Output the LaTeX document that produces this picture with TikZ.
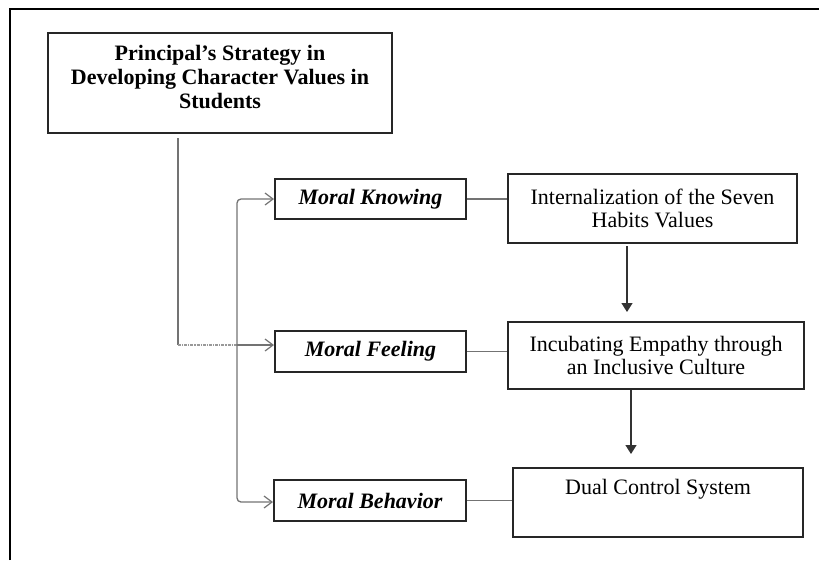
\documentclass[tikz,border=0pt]{standalone}
\usepackage{fontspec}
\setmainfont{Liberation Serif}
\usetikzlibrary{arrows.meta,calc}
\begin{document}
\begin{tikzpicture}[x=1pt,y=-1pt,
  box/.style={draw=black!85,line width=2pt,rectangle,inner sep=0pt,align=center},
  conn/.style={draw=black!55,line width=1.3pt},
  openarrow/.style={-{Straight Barb[length=8pt,width=12pt,line width=1.2pt]}},
  downarrow/.style={draw=black!80,line width=1.3pt,-{Triangle[length=9pt,width=11pt]}},
  txt/.style={font=\fontsize{22}{23.5}\selectfont},
  moral/.style={font=\fontsize{22}{24}\selectfont\bfseries\itshape}]
\useasboundingbox (0,0) rectangle (819,560);
\draw[line width=2pt,black] (10,560) -- (10,9) -- (819,9);

\node[box,minimum width=344pt,minimum height=100pt,font=\fontsize{22}{24}\selectfont\bfseries] (T) at (220,83)
  {Principal's Strategy in\\Developing Character Values in\\Students\\[-12pt]\mbox{}};

\node[box,moral,minimum width=191pt,minimum height=40pt] (MK) at (370.5,199) {Moral Knowing};
\node[box,moral,minimum width=191pt,minimum height=41pt] (MF) at (370.5,351.5) {Moral Feeling};
\node[box,moral,minimum width=192pt,minimum height=41pt] (MB) at (370,500.5) {Moral Behavior};

\node[box,txt,minimum width=289pt,minimum height=69pt] (I) at (652.5,208.5) {Internalization of the Seven\\Habits Values};
\node[box,txt,minimum width=296pt,minimum height=67pt] (E) at (656,355.5) {Incubating Empathy through\\an Inclusive Culture};
\node[box,txt,minimum width=290pt,minimum height=69pt] (D) at (658,502.5) {Dual Control System\\\strut};

% stem from title
\coordinate (s0) at (178,138);
\coordinate (s1) at (178,345);
\coordinate (v0) at (237,345);
\coordinate (vk) at (237,199);
\coordinate (vb) at (237,502);
\draw[conn] (s0) -- (s1);
\draw[draw=black!40,line width=1.2pt,densely dashdotted] (s1) -- (v0);
\draw[conn,openarrow] (v0) -- (MF.west |- v0);

\draw[conn,rounded corners=4pt,{Straight Barb[length=8pt,width=12pt,line width=1.2pt]}-{Straight Barb[length=8pt,width=12pt,line width=1.2pt]}]
  (MK.west) -- (vk) -- (vb) -- (MB.west |- vb);

% horizontal links
\draw[conn] (MK.east) -- (MK.east -| I.west);
\draw[conn] (MF.east) -- (MF.east -| E.west);
\draw[conn] (MB.east) -- (MB.east -| D.west);

% down arrows
\coordinate (a1) at (627,0);
\coordinate (a2) at (631,0);
\coordinate (t1) at (0,312);
\coordinate (t2) at (0,454);
\draw[downarrow] ($(I.south -| a1)+(0,2)$) -- (a1 |- t1);
\draw[downarrow] (E.south -| a2) -- (a2 |- t2);
\end{tikzpicture}
\end{document}
